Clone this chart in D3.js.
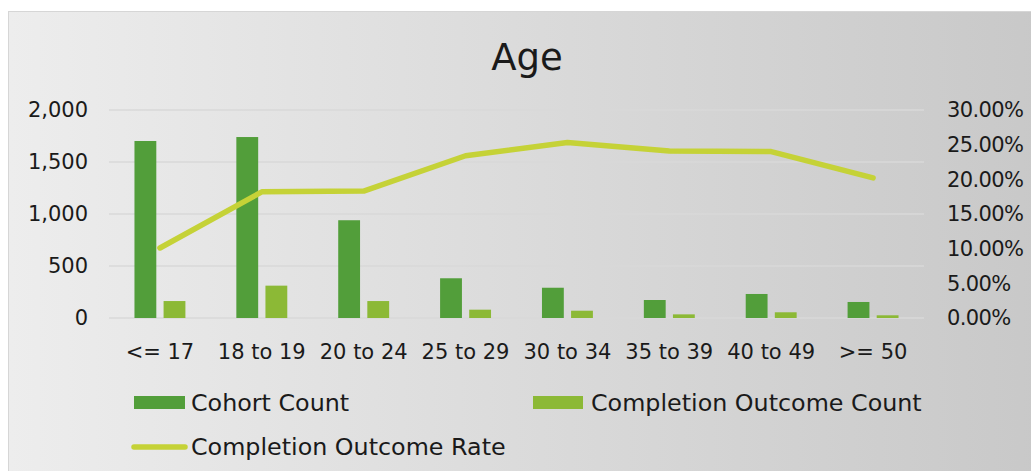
<!DOCTYPE html>
<html>
<head>
<meta charset="utf-8">
<script src="https://cdn.jsdelivr.net/npm/d3@7"></script>
<style>
  body { margin: 0; background: #fff; }
  text { font-family: "DejaVu Sans", sans-serif; fill: #1a1a1a; }
</style>
</head>
<body>
<svg id="chart" width="1031" height="471"></svg>
<script>
const categories = ['<= 17', '18 to 19', '20 to 24', '25 to 29', '30 to 34', '35 to 39', '40 to 49', '>= 50']
const cohortCount = [1702, 1740, 940, 382, 291, 173, 231, 154]
const completionCount = [163, 311, 163, 80, 70, 35, 55, 26]
const completionRate = [0.101, 0.182, 0.183, 0.234, 0.253, 0.241, 0.240, 0.202]
const leftTicks = [0, 500, 1000, 1500, 2000]
const rightTicks = [0, 0.05, 0.10, 0.15, 0.20, 0.25, 0.30]

const colors = {
  cohort: '#529e3a',
  completion: '#8cb936',
  rate: '#c5d237',
}

const plot = { left: 109, right: 924, top: 110, bottom: 318 }
const svg = d3.select('#chart')

// background panel with the left-to-right grey fade
const defs = svg.append('defs')
const grad = defs.append('linearGradient').attr('id', 'bg').attr('x1', 0).attr('x2', 1).attr('y1', 0).attr('y2', 0)
grad.append('stop').attr('offset', '0%').attr('stop-color', '#ededed')
grad.append('stop').attr('offset', '100%').attr('stop-color', '#c8c8c8')

svg.append('rect').attr('x', 8.5).attr('y', 11.5).attr('width', 1040).attr('height', 480)
  .attr('fill', 'url(#bg)').attr('stroke', '#d6d6d6')

svg.append('text').attr('x', 527).attr('y', 70).attr('text-anchor', 'middle')
  .style('font-size', '37px').text('Age')

const x0 = d3.scaleBand().domain(categories).range([plot.left, plot.right]).paddingInner(0.5).paddingOuter(0.25)
const x1 = d3.scaleBand().domain(['cohort', 'completion']).range([0, x0.bandwidth()]).paddingInner(0.25)
const yLeft = d3.scaleLinear().domain([0, 2000]).range([plot.bottom, plot.top])
const yRight = d3.scaleLinear().domain([0, 0.30]).range([plot.bottom, plot.top])

// gridlines
svg.append('g').selectAll('line').data(leftTicks).join('line')
  .attr('x1', plot.left).attr('x2', plot.right)
  .attr('y1', (d) => yLeft(d)).attr('y2', (d) => yLeft(d))
  .attr('stroke', '#d8d8d8').attr('stroke-width', 1.5)

// left axis
const leftAxis = svg.append('g').attr('transform', 'translate(88,0)')
  .call(d3.axisLeft(yLeft).tickValues(leftTicks).tickSize(0).tickPadding(0).tickFormat(d3.format(',')))
leftAxis.select('.domain').remove()
leftAxis.selectAll('text').style('font-size', '21px').style('font-family', '"DejaVu Sans", sans-serif')
  .attr('fill', '#1a1a1a')

// right axis
const rightAxis = svg.append('g').attr('transform', 'translate(947,0)')
  .call(d3.axisRight(yRight).tickValues(rightTicks).tickSize(0).tickPadding(0).tickFormat(d3.format('.2%')))
rightAxis.select('.domain').remove()
rightAxis.selectAll('text').style('font-size', '21px').style('letter-spacing', '-0.6px')
  .style('font-family', '"DejaVu Sans", sans-serif').attr('fill', '#1a1a1a')

// category labels
svg.append('g').selectAll('text').data(categories).join('text')
  .attr('x', (d) => x0(d) + x0.bandwidth() / 2).attr('y', 359)
  .attr('text-anchor', 'middle').style('font-size', '21px').text((d) => d)

// bars
const groups = svg.append('g').selectAll('g').data(categories).join('g')
  .attr('transform', (d) => `translate(${x0(d)},0)`)

groups.append('rect')
  .attr('x', x1('cohort')).attr('width', x1.bandwidth())
  .attr('y', (d, i) => yLeft(cohortCount[i])).attr('height', (d, i) => yLeft(0) - yLeft(cohortCount[i]))
  .attr('fill', colors.cohort)

groups.append('rect')
  .attr('x', x1('completion')).attr('width', x1.bandwidth())
  .attr('y', (d, i) => yLeft(completionCount[i])).attr('height', (d, i) => yLeft(0) - yLeft(completionCount[i]))
  .attr('fill', colors.completion)

// rate line
const line = d3.line()
  .x((d, i) => x0(categories[i]) + x0.bandwidth() / 2)
  .y((d) => yRight(d))

svg.append('path').datum(completionRate).attr('d', line)
  .attr('fill', 'none').attr('stroke', colors.rate).attr('stroke-width', 5.5)
  .attr('stroke-linecap', 'round').attr('stroke-linejoin', 'round')

// legend
const legend = svg.append('g')
legend.append('rect').attr('x', 134).attr('y', 396).attr('width', 51).attr('height', 13).attr('fill', colors.cohort)
legend.append('text').attr('x', 191).attr('y', 411).style('font-size', '23.8px').text('Cohort Count')
legend.append('rect').attr('x', 533).attr('y', 396).attr('width', 50).attr('height', 13).attr('fill', colors.completion)
legend.append('text').attr('x', 591).attr('y', 411).style('font-size', '23.8px').text('Completion Outcome Count')
legend.append('line').attr('x1', 134).attr('x2', 185).attr('y1', 447).attr('y2', 447)
  .attr('stroke', colors.rate).attr('stroke-width', 5.5).attr('stroke-linecap', 'round')
legend.append('text').attr('x', 191).attr('y', 455).style('font-size', '23.8px').text('Completion Outcome Rate')
</script>
</body>
</html>
